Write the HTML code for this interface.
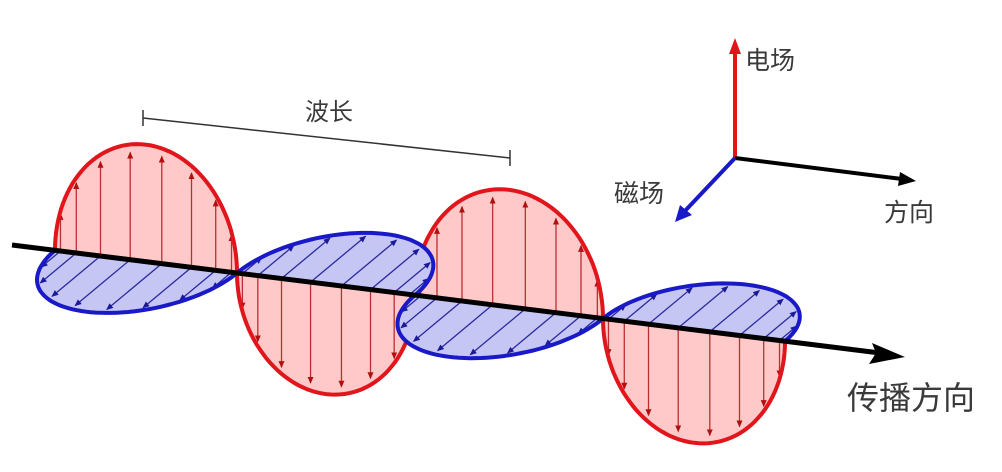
<!DOCTYPE html>
<html><head><meta charset="utf-8"><style>
html,body{margin:0;padding:0;background:#fff;}
svg{display:block;}
text{font-family:"Liberation Sans","Noto Sans CJK SC",sans-serif;fill:#3a3a3a;}
</style></head><body>
<svg id="c" width="1002" height="472" viewBox="0 0 1002 472">
<defs>
<marker id="ar" markerWidth="8" markerHeight="8" refX="6" refY="4" orient="auto" markerUnits="userSpaceOnUse"><path d="M0,1 L7,4 L0,7 Z" fill="#b01010"/></marker>
<marker id="ab" markerWidth="8" markerHeight="8" refX="6" refY="4" orient="auto" markerUnits="userSpaceOnUse"><path d="M0,1 L7,4 L0,7 Z" fill="#1a1a9a"/></marker>
</defs>
<g id="waves"></g>
<line x1="12" y1="245" x2="880" y2="353" stroke="#000" stroke-width="5"/>
<path d="M905,357 L872,343 L876,353 L869,364 Z" fill="#000"/>
<g stroke="#333" stroke-width="1.5">
<line x1="143" y1="118" x2="510" y2="158"/>
<line x1="143" y1="110" x2="143" y2="126"/>
<line x1="510" y1="150" x2="510" y2="166"/>
</g>
<text x="329" y="120" font-size="24" text-anchor="middle">波长</text>
<g>
<line x1="735" y1="158" x2="735" y2="52" stroke="#e0161c" stroke-width="4"/>
<path d="M735,38 L729,54 L741,54 Z" fill="#e0161c"/>
<line x1="735" y1="158" x2="902" y2="179" stroke="#000" stroke-width="4"/>
<path d="M916,181 L900,172 L898,186 Z" fill="#000"/>
<line x1="735" y1="158" x2="684" y2="212" stroke="#1919c8" stroke-width="4"/>
<path d="M675,222 L680,205 L692,215 Z" fill="#1919c8"/>
</g>
<text x="745" y="69" font-size="25">电场</text>
<text x="614" y="202" font-size="25">磁场</text>
<text x="884" y="221" font-size="25">方向</text>
<text x="847" y="409" font-size="32">传播方向</text>
</svg>
<script>
const lobeStarts = [55, 237, 415, 603];
const lobeEnds = [237, 415, 603, 785];
const eAmplitude = [117, -110, 117, -113];
const bAmplitude = [1, -1, 1, -0.9];
const ns = "http://www.w3.org/2000/svg";
const g = document.getElementById('waves');
function axisY(x){ return 245 + 0.1244*(x-12); }
const BDX = -60, BDY = 50;
function mk(tag, attrs){ const e=document.createElementNS(ns,tag); for(const k in attrs) e.setAttribute(k,attrs[k]); return e; }
for(let i=0;i<lobeStarts.length;i++){
  const x0=lobeStarts[i], x1=lobeEnds[i], xc=(x0+x1)/2, h=(x1-x0)/2, A=eAmplitude[i];
  let d='';
  for(let k=0;k<=60;k++){ const t=Math.PI*k/60; const x=xc-h*Math.cos(t)-(A>0?1:-1)*4*Math.sin(2*t)*0; const y=axisY(x)-A*Math.sin(t); d+=(k?'L':'M')+x.toFixed(1)+','+y.toFixed(1); }
  d+='Z';
  const grp=mk('g',{});
  
  
  grp.appendChild(mk('path',{d:d,fill:'#ffc9c9',stroke:'none'}));
  for(let k=1;k<=8;k++){
    const t=Math.PI*k/9; const x=xc-h*Math.cos(t); const ya=axisY(x); const yb=ya-A*Math.sin(t)*0.93;
    grp.appendChild(mk('line',{x1:x,y1:ya,x2:x,y2:yb,stroke:'#b83030','stroke-width':1.3,'marker-end':'url(#ar)'}));
  }
  grp.appendChild(mk('path',{d:d,fill:'none',stroke:'#e0161c','stroke-width':4}));
  g.appendChild(grp);
}
for(let i=0;i<lobeStarts.length;i++){
  const x0=lobeStarts[i], x1=lobeEnds[i], xc=(x0+x1)/2, h=(x1-x0)/2, B=bAmplitude[i];
  let d='';
  for(let k=0;k<=60;k++){ const t=Math.PI*k/60; const xa=xc-h*Math.cos(t); const s=Math.sin(t)*B; const x=xa+BDX*s; const y=axisY(xa)+BDY*s; d+=(k?'L':'M')+x.toFixed(1)+','+y.toFixed(1); }
  d+='Z';
  const grp=mk('g',{});
  
  
  grp.appendChild(mk('path',{d:d,fill:'#c6c6f4',stroke:'none'}));
  for(let k=1;k<=8;k++){
    const t=Math.PI*k/9; const xa=xc-h*Math.cos(t); const s=Math.sin(t)*B*0.93; 
    grp.appendChild(mk('line',{x1:xa,y1:axisY(xa),x2:xa+BDX*s,y2:axisY(xa)+BDY*s,stroke:'#2a2aa0','stroke-width':1.3,'marker-end':'url(#ab)'}));
  }
  grp.appendChild(mk('path',{d:d,fill:'none',stroke:'#1919c8','stroke-width':4}));
  g.appendChild(grp);
}
</script>
</body></html>
